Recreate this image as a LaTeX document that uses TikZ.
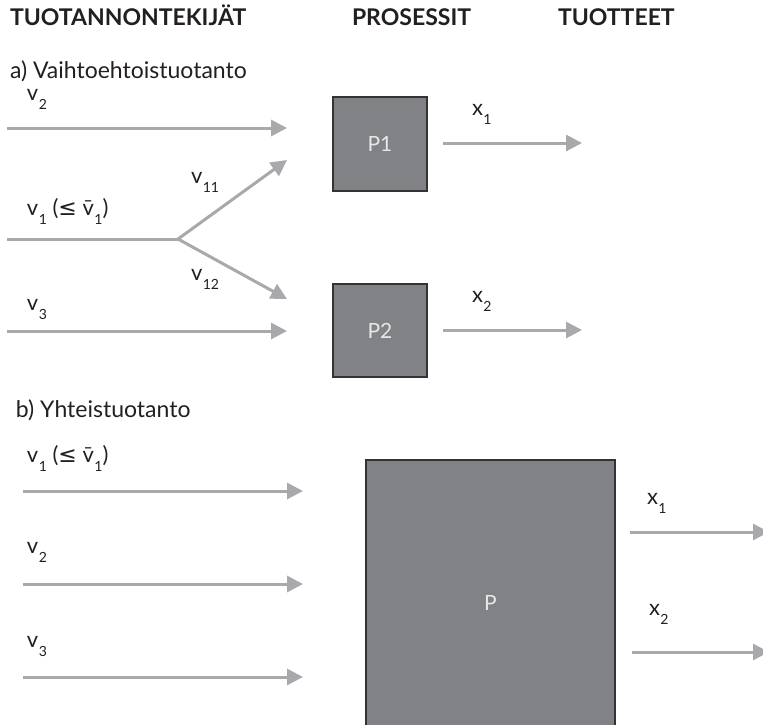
\documentclass[tikz,border=0pt]{standalone}
\usepackage{fontspec}
\setmainfont{Lato}
\newfontfamily\symfont{DejaVu Sans}
\usetikzlibrary{arrows.meta}
\definecolor{flowgray}{HTML}{A7A9AC}
\definecolor{boxgray}{HTML}{808285}
\definecolor{ink}{HTML}{231F20}
\definecolor{boxtext}{HTML}{E6E7E8}
\newcommand\vsub[2]{#1\kern0.5pt\raisebox{-9pt}{\fontsize{14pt}{14pt}\selectfont #2}}
\newcommand\lesym{{\symfont ≤}}
\begin{document}
\begin{tikzpicture}[x=1pt,y=-1pt,
  every node/.style={inner sep=0pt, outer sep=0pt, text=ink},
  head/.style={anchor=base west, font=\fontsize{23pt}{23pt}\selectfont\bfseries},
  title/.style={anchor=base west, font=\fontsize{23pt}{23pt}\selectfont},
  lab/.style={anchor=base west, font=\fontsize{22pt}{22pt}\selectfont},
  flow/.style={draw=flowgray, line width=3pt, -{Triangle[length=16pt,width=16pt]}},
  flowline/.style={draw=flowgray, line width=3pt},
  proc/.style={draw=black!80, fill=boxgray, line width=1.5pt, text=boxtext,
    font=\fontsize{21pt}{21pt}\selectfont}]
\useasboundingbox (0,0) rectangle (763,724);
% headings
\node[head] (h1) at (10,25) {TUOTANNONTEKIJÄT};
\node[head] (h2) at (352,25) {PROSESSIT};
\node[head] (h3) at (558,25) {TUOTTEET};
% a)
\node[title] (ta) at (10,78) {a) Vaihtoehtoistuotanto};
\node[proc, minimum width=94pt, minimum height=94pt] (P1) at (380,144) {P1};
\node[proc, minimum width=94pt, minimum height=93pt] (P2) at (380,330.5) {P2};
\node[lab] (lv2a) at (27,100) {\vsub{v}{2}};
\node[lab] (lv1a) at (27,215) {\vsub{v}{1} (\lesym\ \vsub{\=v}{1})};
\node[lab] (lv11) at (191,183) {\vsub{v}{11}};
\node[lab] (lv12) at (191,280) {\vsub{v}{12}};
\node[lab] (lv3a) at (27,310) {\vsub{v}{3}};
\node[lab] (lx1a) at (472,115) {\vsub{x}{1}};
\node[lab] (lx2a) at (472,302) {\vsub{x}{2}};
\coordinate (v2s) at (7,128);   \coordinate (v2e) at (287,128);
\coordinate (v1s) at (7,239);   \coordinate (br) at (178,239);
\coordinate (b1e) at (287,160); \coordinate (b2e) at (287,299);
\coordinate (v3s) at (7,331);   \coordinate (v3e) at (287,331);
\coordinate (x1s) at (443,143); \coordinate (x1e) at (582,143);
\coordinate (x2s) at (443,330); \coordinate (x2e) at (582,330);
\draw[flow] (v2s) -- (v2e);
\draw[flowline] (v1s) -- (br);
\draw[flow] (br) -- (b1e);
\draw[flow] (br) -- (b2e);
\draw[flow] (v3s) -- (v3e);
\draw[flow] (x1s) -- (x1e);
\draw[flow] (x2s) -- (x2e);
% b)
\node[title] (tb) at (16,417) {b) Yhteistuotanto};
\node[proc, minimum width=249pt, minimum height=286pt] (P) at (490.5,603) {P};
\node[lab] (lv1b) at (27,462) {\vsub{v}{1} (\lesym\ \vsub{\=v}{1})};
\node[lab] (lv2b) at (27,553) {\vsub{v}{2}};
\node[lab] (lv3b) at (27,647) {\vsub{v}{3}};
\node[lab] (lx1b) at (647,504) {\vsub{x}{1}};
\node[lab] (lx2b) at (649,615) {\vsub{x}{2}};
\coordinate (w1s) at (23,491);  \coordinate (w1e) at (303,491);
\coordinate (w2s) at (23,584);  \coordinate (w2e) at (303,584);
\coordinate (w3s) at (23,677);  \coordinate (w3e) at (303,677);
\coordinate (y1s) at (630,532); \coordinate (y1e) at (769,532);
\coordinate (y2s) at (632,652); \coordinate (y2e) at (769,652);
\draw[flow] (w1s) -- (w1e);
\draw[flow] (w2s) -- (w2e);
\draw[flow] (w3s) -- (w3e);
\draw[flow] (y1s) -- (y1e);
\draw[flow] (y2s) -- (y2e);
\end{tikzpicture}
\end{document}
